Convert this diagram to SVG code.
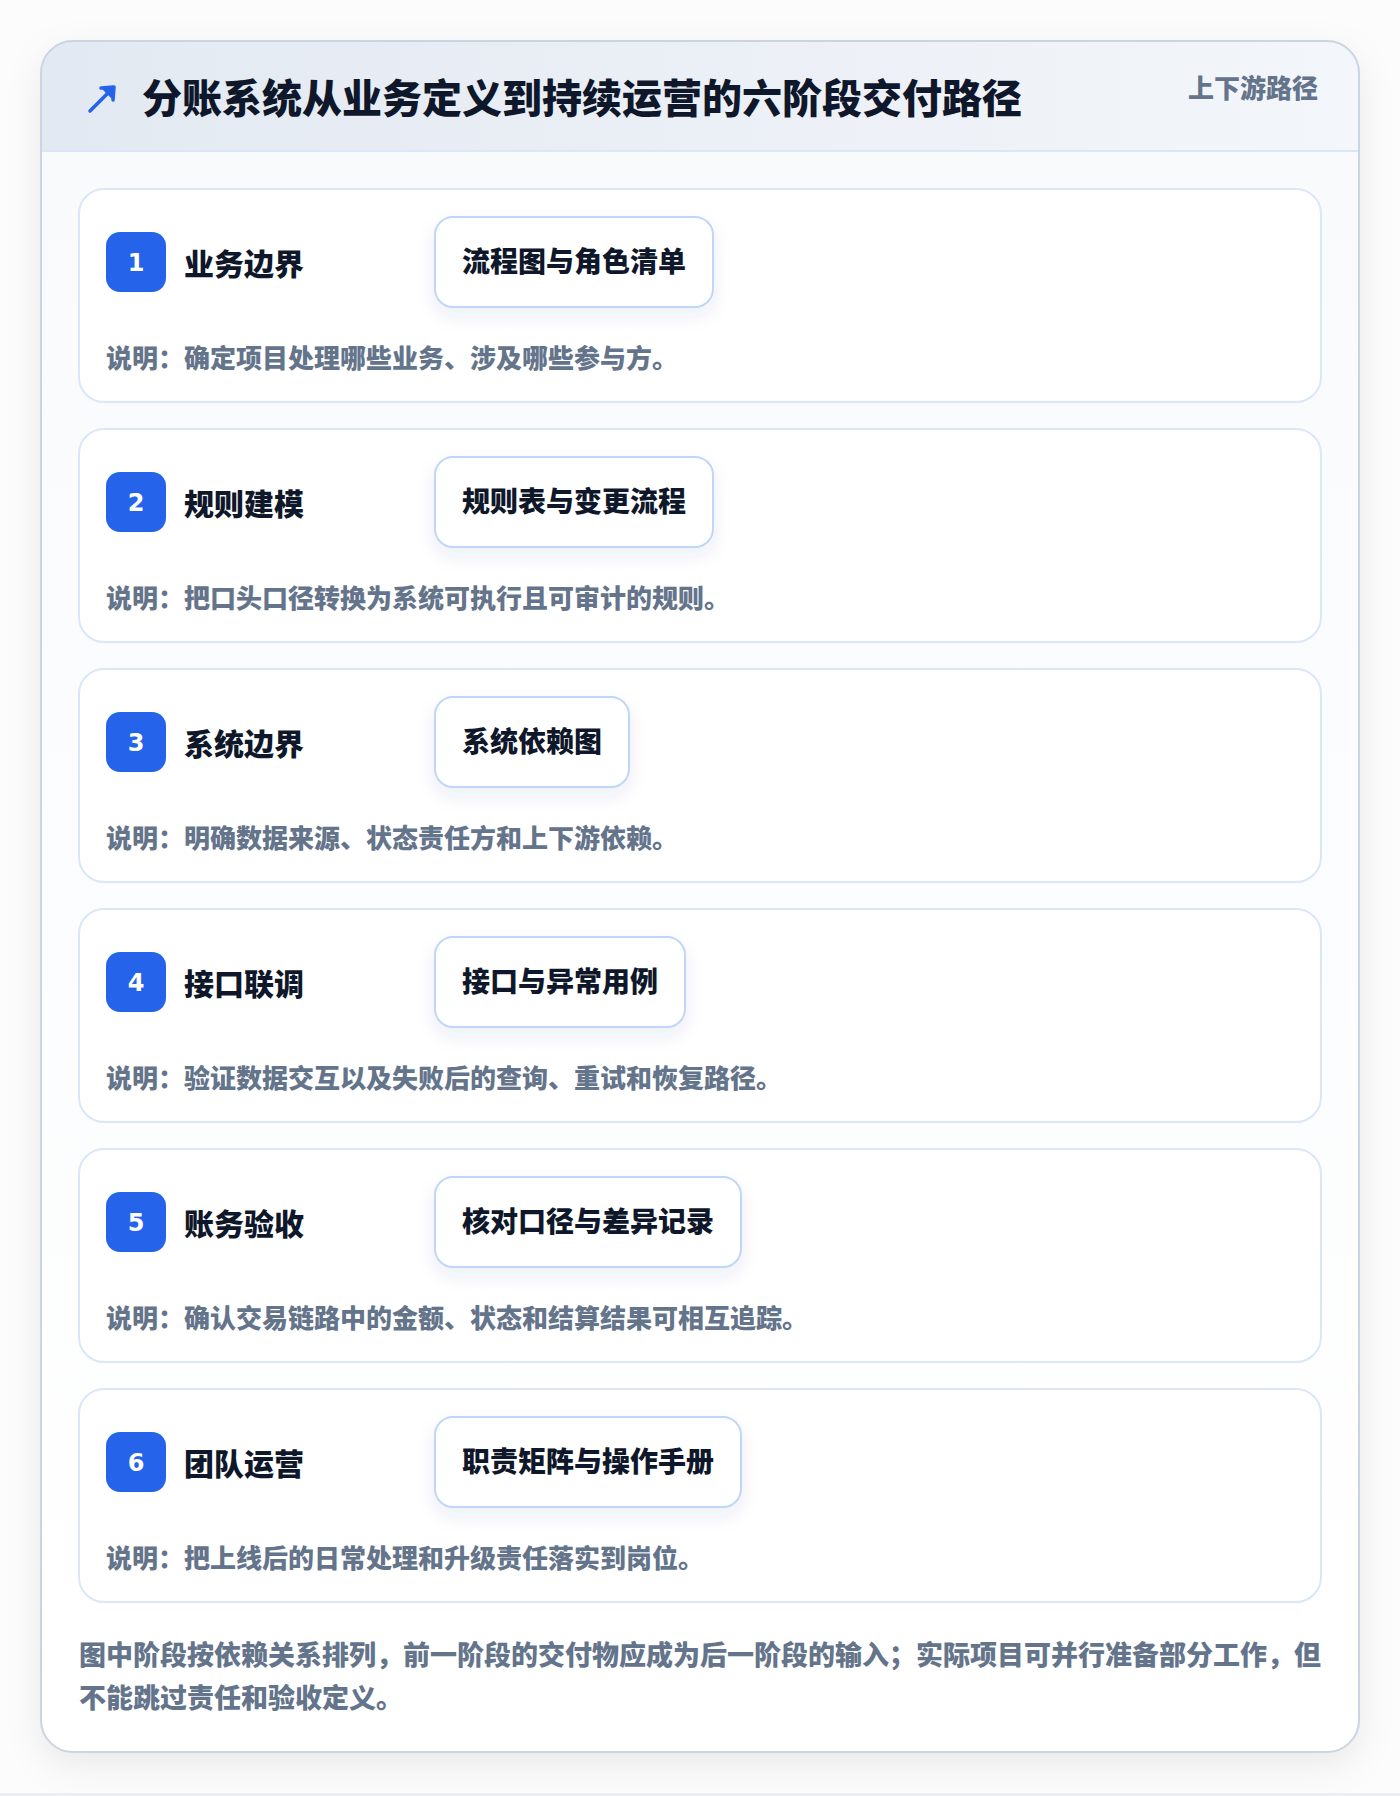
<svg xmlns="http://www.w3.org/2000/svg" width="1400" height="1796" viewBox="0 0 1400 1796">
<defs>
<style>
text{font-family:"Noto Sans CJK SC","Noto Sans",sans-serif;font-weight:900}
.title{font-size:40px;fill:#0f172a}
.tag{font-size:26px;fill:#64748b}
.stitle{font-size:30px;fill:#0f172a}
.deliv{font-size:28px;fill:#0f172a}
.desc{font-size:26px;fill:#64748b}
.num{font-size:24px;fill:#ffffff;font-family:"DejaVu Sans","Noto Sans",sans-serif;font-weight:700}
.foot{font-size:27px;fill:#64748b}
.card{fill:#ffffff;stroke:#dbe7f7;stroke-width:2}
.box{fill:#ffffff;stroke:#bfd6f6;stroke-width:2}
.badge{fill:#2563eb}
</style>
<linearGradient id="hdr" x1="0" y1="0" x2="1" y2="0">
<stop offset="0" stop-color="#e3e9f2"/>
<stop offset="1" stop-color="#f3f6fa"/>
</linearGradient>
<linearGradient id="body" x1="0" y1="0" x2="0" y2="1">
<stop offset="0" stop-color="#f8fafc"/>
<stop offset="1" stop-color="#ffffff"/>
</linearGradient>
<filter id="outerShadow" x="-10%" y="-10%" width="120%" height="120%">
<feDropShadow dx="0" dy="12" stdDeviation="18" flood-color="#0f172a" flood-opacity="0.08"/>
</filter>
<filter id="boxShadow" x="-20%" y="-30%" width="140%" height="170%">
<feDropShadow dx="0" dy="8" stdDeviation="9" flood-color="#1e3a8a" flood-opacity="0.08"/>
</filter>
<clipPath id="outerClip"><rect x="41" y="41" width="1318" height="1711" rx="32"/></clipPath>
</defs>
<rect width="1400" height="1796" fill="#fcfcfd"/>
<rect x="0" y="1793" width="1400" height="3" fill="#eceef1"/>
<g id="frame">
<rect x="41" y="41" width="1318" height="1711" rx="32" fill="url(#body)" filter="url(#outerShadow)"/>
<g clip-path="url(#outerClip)">
<rect x="41" y="41" width="1318" height="110" fill="url(#hdr)"/>
<line x1="41" y1="151" x2="1359" y2="151" stroke="#dbe7f7" stroke-width="2"/>
</g>
<rect x="41" y="41" width="1318" height="1711" rx="32" fill="none" stroke="#cbd5e1" stroke-width="2"/>
</g>
<g id="header">
<g id="icon" stroke="#2563eb" stroke-width="3.5" stroke-linecap="round" fill="none">
<line x1="90" y1="111" x2="112" y2="89"/>
<path d="M101 88 L114 87 L113 100" fill="#2563eb" stroke-linejoin="round"/>
</g>
<text class="title" x="142" y="113">分账系统从业务定义到持续运营的六阶段交付路径</text>
<text class="tag" x="1318" y="98" text-anchor="end">上下游路径</text>
</g>
<g id="connectors"></g>
<g id="stage1" transform="translate(0,0)">
<rect class="card" x="79" y="189" width="1242" height="213" rx="25"/>
<rect class="badge" x="106" y="232" width="60" height="60" rx="14"/>
<text class="num" x="136" y="271" text-anchor="middle">1</text>
<text class="stitle" x="184" y="275">业务边界</text>
<rect class="box" x="435" y="217" width="278" height="90" rx="18" filter="url(#boxShadow)"/>
<text class="deliv" x="574" y="272" text-anchor="middle">流程图与角色清单</text>
<text class="desc" x="106" y="368">说明：确定项目处理哪些业务、涉及哪些参与方。</text>
</g>
<g id="stage2" transform="translate(0,240)">
<rect class="card" x="79" y="189" width="1242" height="213" rx="25"/>
<rect class="badge" x="106" y="232" width="60" height="60" rx="14"/>
<text class="num" x="136" y="271" text-anchor="middle">2</text>
<text class="stitle" x="184" y="275">规则建模</text>
<rect class="box" x="435" y="217" width="278" height="90" rx="18" filter="url(#boxShadow)"/>
<text class="deliv" x="574" y="272" text-anchor="middle">规则表与变更流程</text>
<text class="desc" x="106" y="368">说明：把口头口径转换为系统可执行且可审计的规则。</text>
</g>
<g id="stage3" transform="translate(0,480)">
<rect class="card" x="79" y="189" width="1242" height="213" rx="25"/>
<rect class="badge" x="106" y="232" width="60" height="60" rx="14"/>
<text class="num" x="136" y="271" text-anchor="middle">3</text>
<text class="stitle" x="184" y="275">系统边界</text>
<rect class="box" x="435" y="217" width="194" height="90" rx="18" filter="url(#boxShadow)"/>
<text class="deliv" x="532" y="272" text-anchor="middle">系统依赖图</text>
<text class="desc" x="106" y="368">说明：明确数据来源、状态责任方和上下游依赖。</text>
</g>
<g id="stage4" transform="translate(0,720)">
<rect class="card" x="79" y="189" width="1242" height="213" rx="25"/>
<rect class="badge" x="106" y="232" width="60" height="60" rx="14"/>
<text class="num" x="136" y="271" text-anchor="middle">4</text>
<text class="stitle" x="184" y="275">接口联调</text>
<rect class="box" x="435" y="217" width="250" height="90" rx="18" filter="url(#boxShadow)"/>
<text class="deliv" x="560" y="272" text-anchor="middle">接口与异常用例</text>
<text class="desc" x="106" y="368">说明：验证数据交互以及失败后的查询、重试和恢复路径。</text>
</g>
<g id="stage5" transform="translate(0,960)">
<rect class="card" x="79" y="189" width="1242" height="213" rx="25"/>
<rect class="badge" x="106" y="232" width="60" height="60" rx="14"/>
<text class="num" x="136" y="271" text-anchor="middle">5</text>
<text class="stitle" x="184" y="275">账务验收</text>
<rect class="box" x="435" y="217" width="306" height="90" rx="18" filter="url(#boxShadow)"/>
<text class="deliv" x="588" y="272" text-anchor="middle">核对口径与差异记录</text>
<text class="desc" x="106" y="368">说明：确认交易链路中的金额、状态和结算结果可相互追踪。</text>
</g>
<g id="stage6" transform="translate(0,1200)">
<rect class="card" x="79" y="189" width="1242" height="213" rx="25"/>
<rect class="badge" x="106" y="232" width="60" height="60" rx="14"/>
<text class="num" x="136" y="271" text-anchor="middle">6</text>
<text class="stitle" x="184" y="275">团队运营</text>
<rect class="box" x="435" y="217" width="306" height="90" rx="18" filter="url(#boxShadow)"/>
<text class="deliv" x="588" y="272" text-anchor="middle">职责矩阵与操作手册</text>
<text class="desc" x="106" y="368">说明：把上线后的日常处理和升级责任落实到岗位。</text>
</g>
<g id="footnote">
<text class="foot" x="79" y="1665">图中阶段按依赖关系排列，前一阶段的交付物应成为后一阶段的输入；实际项目可并行准备部分工作，但</text>
<text class="foot" x="79" y="1708">不能跳过责任和验收定义。</text>
</g>
</svg>
